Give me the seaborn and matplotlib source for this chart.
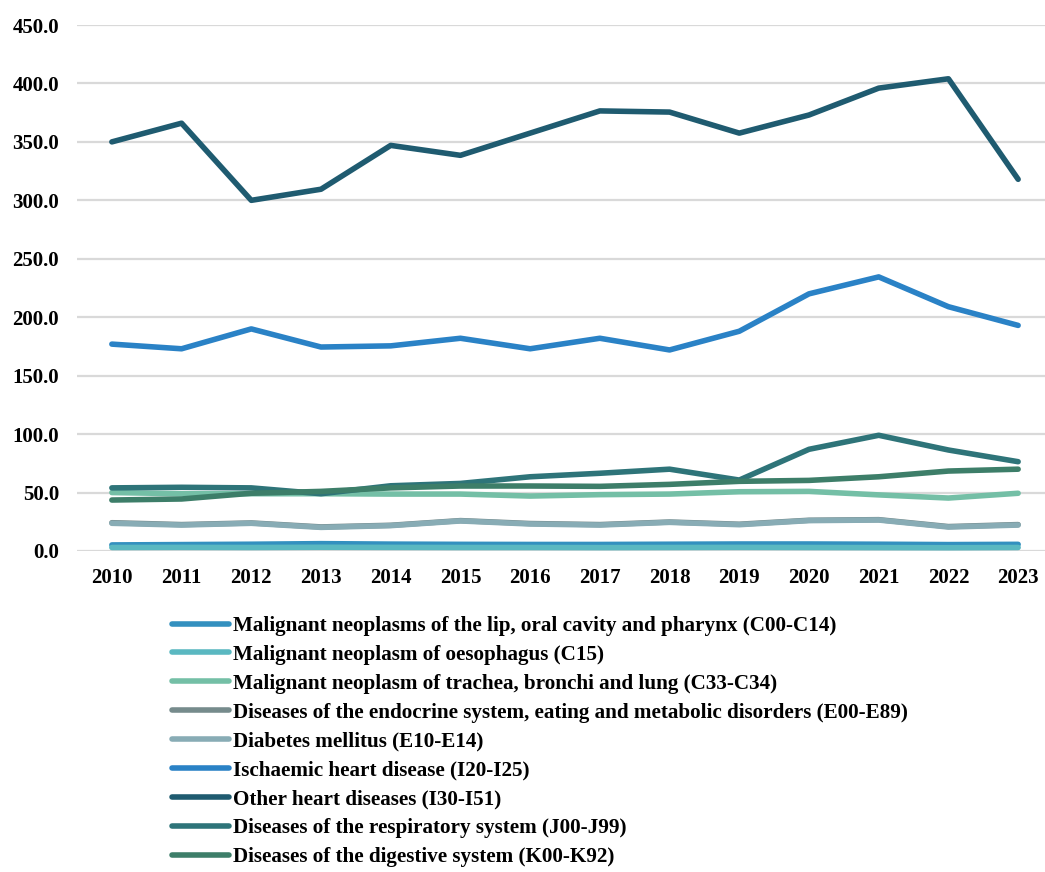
import matplotlib
matplotlib.use("Agg")
import matplotlib.pyplot as plt
import pandas as pd
import seaborn as sns

years = [2010, 2011, 2012, 2013, 2014, 2015, 2016, 2017, 2018, 2019, 2020, 2021, 2022, 2023]

causes = [
    "Malignant neoplasms of the lip, oral cavity and pharynx (C00-C14)",
    "Malignant neoplasm of oesophagus (C15)",
    "Malignant neoplasm of trachea, bronchi and lung (C33-C34)",
    "Diseases of the endocrine system, eating and metabolic disorders (E00-E89)",
    "Diabetes mellitus (E10-E14)",
    "Ischaemic heart disease (I20-I25)",
    "Other heart diseases (I30-I51)",
    "Diseases of the respiratory system (J00-J99)",
    "Diseases of the digestive system (K00-K92)",
]

lip_oral = [5.2, 5.5, 5.8, 6.3, 5.9, 5.7, 5.6, 5.6, 5.8, 6.0, 6.0, 5.8, 5.5, 5.7]
oesophagus = [3.0, 3.1, 3.0, 3.2, 3.1, 3.0, 3.0, 2.9, 3.0, 3.1, 3.0, 2.9, 2.8, 3.0]
lung = [50.0, 49.0, 49.0, 49.0, 48.7, 48.7, 47.0, 48.2, 48.7, 50.7, 51.0, 48.0, 45.3, 49.4]
endocrine = [24.2, 22.6, 24.0, 20.6, 22.0, 26.0, 23.5, 22.6, 24.8, 22.9, 26.3, 26.8, 20.9, 22.6]
diabetes = [23.7, 22.2, 23.7, 20.2, 21.7, 25.7, 23.1, 22.2, 24.5, 22.5, 26.0, 26.5, 20.5, 22.2]
ischaemic = [177.0, 173.0, 190.0, 174.5, 175.5, 182.0, 173.0, 182.0, 172.0, 188.0, 220.0, 234.5, 209.0, 193.0]
other_heart = [350.0, 366.0, 300.0, 309.5, 347.0, 338.5, 357.5, 376.5, 375.5, 357.5, 373.0, 396.0, 404.0, 318.0]
respiratory = [54.0, 54.5, 54.0, 49.0, 55.8, 57.8, 63.5, 66.5, 70.0, 60.7, 87.0, 99.0, 86.4, 76.4]
digestive = [43.6, 44.5, 49.4, 51.0, 54.0, 55.6, 55.6, 55.3, 57.0, 59.6, 60.4, 63.5, 68.4, 70.0]

colors = ["#3390BF", "#5AB8C1", "#74BFA6", "#768B8C", "#88ACB5",
          "#2A82C6", "#1F5B70", "#2E7479", "#3D7E69"]

series = [lip_oral, oesophagus, lung, endocrine, diabetes,
          ischaemic, other_heart, respiratory, digestive]

rows = []
for cause, vals in zip(causes, series):
    for i, (yr, v) in enumerate(zip(years, vals)):
        rows.append({"pos": i, "year": yr, "cause": cause, "rate": v})
df = pd.DataFrame(rows)

sns.set_style("white")
plt.rcParams["font.family"] = ["Liberation Serif", "DejaVu Serif"]
plt.rcParams["font.weight"] = "bold"
plt.rcParams["text.color"] = "black"
plt.rcParams["xtick.color"] = "black"
plt.rcParams["ytick.color"] = "black"

fig = plt.figure(figsize=(10.45, 8.72), dpi=100)
ax = fig.add_axes([77 / 1045, 321 / 872, 976 / 1045, 526 / 872])

sns.lineplot(
    data=df, x="pos", y="rate", hue="cause", hue_order=causes,
    palette=dict(zip(causes, colors)), linewidth=4.0, legend=False,
    solid_capstyle="round", ax=ax, zorder=3,
)

ax.set_xlim(-0.5, len(years) - 0.5)
ax.set_ylim(0, 450)
ax.set_xticks(range(len(years)))
ax.set_xticklabels([str(y) for y in years])
ax.set_yticks(range(0, 451, 50))
ax.set_yticklabels([f"{v:.1f}" for v in range(0, 451, 50)])
ax.yaxis.grid(True, color="#D9D9D9", linewidth=1.6, zorder=0)
ax.xaxis.grid(False)
for s in ax.spines.values():
    s.set_visible(False)
ax.tick_params(axis="both", length=0, labelsize=15, labelcolor="black")
ax.tick_params(axis="x", pad=12)
ax.tick_params(axis="y", pad=13)
for lbl in ax.get_xticklabels() + ax.get_yticklabels():
    lbl.set_fontweight("bold")
ax.set_xlabel("")
ax.set_ylabel("")

handles = ax.lines[:len(causes)]
leg = fig.legend(
    handles, causes, loc="upper left",
    bbox_to_anchor=(172 / 1045, 1 - 616 / 872),
    frameon=False, handlelength=2.7, handletextpad=0.2,
    labelspacing=0.42, borderpad=0, borderaxespad=0,
    prop={"weight": "bold", "size": 15.2},
)
for t in leg.get_texts():
    t.set_color("black")

fig.savefig("out.png", dpi=100)
